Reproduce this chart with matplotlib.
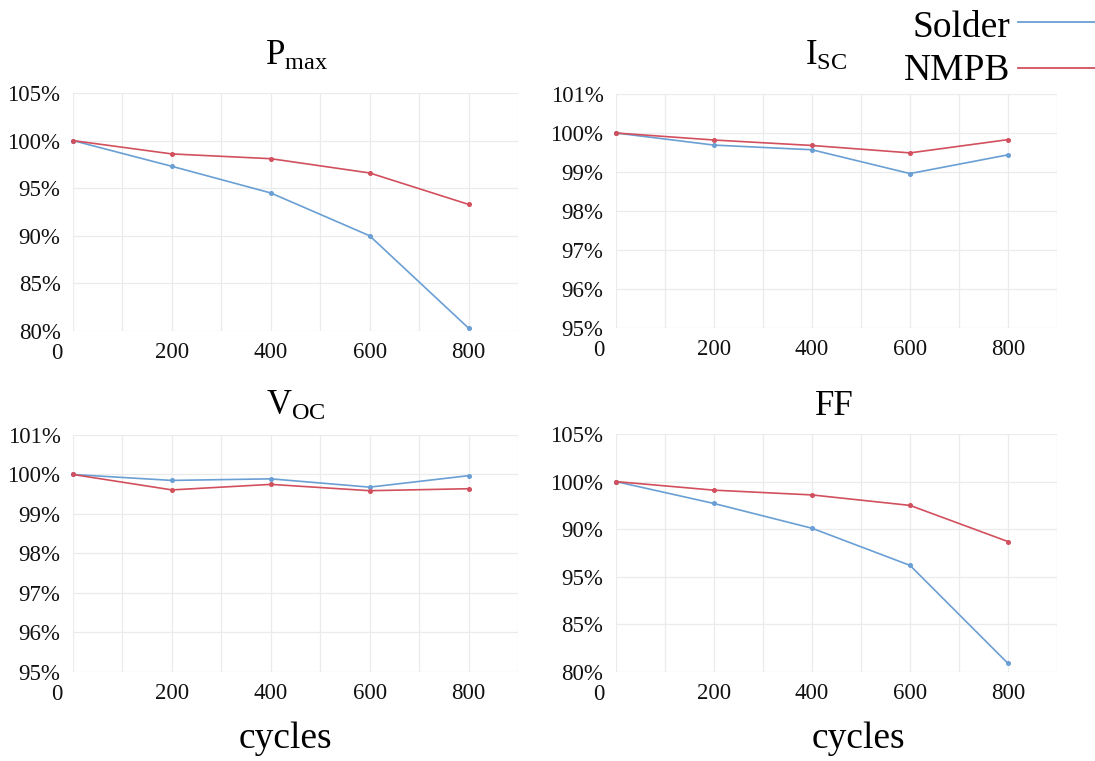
import matplotlib
matplotlib.use("Agg")
import matplotlib.pyplot as plt
from matplotlib.lines import Line2D

plt.rcParams["font.family"] = ["Liberation Serif", "DejaVu Serif"]
plt.rcParams["mathtext.fontset"] = "custom"
plt.rcParams["mathtext.rm"] = "Liberation Serif"
plt.rcParams["mathtext.it"] = "Liberation Serif:italic"

# ---- data -------------------------------------------------------------
cycles = [0, 200, 400, 600, 800]
x_tick_values = [200, 400, 600, 800]
x_tick_labels = ["200", "400", "600", "800"]

pmax_solder = [100.0, 97.3, 94.5, 90.0, 80.3]
pmax_nmpb = [100.0, 98.6, 98.1, 96.6, 93.3]
isc_solder = [100.0, 99.69, 99.57, 98.96, 99.44]
isc_nmpb = [100.0, 99.82, 99.68, 99.49, 99.83]
voc_solder = [100.0, 99.85, 99.89, 99.68, 99.97]
voc_nmpb = [100.0, 99.61, 99.75, 99.59, 99.64]
ff_solder = [100.0, 97.7, 95.1, 91.2, 80.9]
ff_nmpb = [100.0, 99.1, 98.6, 97.5, 93.7]

wide_ticks = [80, 85, 90, 95, 100, 105]
wide_labels = ["80%", "85%", "90%", "95%", "100%", "105%"]
ff_labels = ["80%", "85%", "95%", "90%", "100%", "105%"]
narrow_ticks = [95, 96, 97, 98, 99, 100, 101]
narrow_labels = ["95%", "96%", "97%", "98%", "99%", "100%", "101%"]

series_names = ["Solder", "NMPB"]
BLUE = "#6a9fd4"
RED = "#d2505e"
GRID = "#ebebeb"

# ---- figure -----------------------------------------------------------
W, H = 1095, 761
fig = plt.figure(figsize=(W / 100, H / 100), dpi=100)


def axes_px(left, top, right, bottom):
    return fig.add_axes([left / W, 1 - bottom / H, (right - left) / W, (bottom - top) / H])


panels = [
    # title, solder, nmpb, yticks, ylabels, rect (l, t, r, b), title centre x, title baseline y
    (r"$\mathregular{P_{max}}$", pmax_solder, pmax_nmpb, wide_ticks, wide_labels,
     (73, 93, 518, 331), 297, 65),
    (r"$\mathregular{I_{SC}}$", isc_solder, isc_nmpb, narrow_ticks, narrow_labels,
     (616, 94, 1057, 328), 826, 65),
    (r"$\mathregular{V_{OC}}$", voc_solder, voc_nmpb, narrow_ticks, narrow_labels,
     (73, 435, 518, 672), 296, 415),
    ("FF", ff_solder, ff_nmpb, wide_ticks, ff_labels,
     (616, 434, 1057, 672), 834, 415),
]

for title, solder, nmpb, yt, yl, rect, tx, ty in panels:
    l, t, r, b = rect
    ax = axes_px(l, t, r, b)
    ax.set_xlim(0, 900)
    ax.set_ylim(yt[0], yt[-1])
    ax.set_yticks(yt)
    ax.set_yticklabels(yl)
    ax.set_xticks(x_tick_values)
    ax.set_xticklabels(x_tick_labels)
    ax.set_xticks(range(0, 901, 100), minor=True)
    ax.grid(True, which="both", axis="x", color=GRID, linewidth=0.9)
    ax.grid(True, which="major", axis="y", color=GRID, linewidth=0.9)
    ax.set_axisbelow(True)
    for s in ax.spines.values():
        s.set_visible(False)
    ax.tick_params(axis="both", which="both", length=0, labelsize=16.5, colors="#111111")
    ax.tick_params(axis="y", pad=9)
    ax.tick_params(axis="x", pad=8)

    ax.plot(cycles, solder, color=BLUE, linewidth=1.2, marker="o", markersize=2.6,
            clip_on=False, zorder=3)
    ax.plot(cycles, nmpb, color=RED, linewidth=1.2, marker="o", markersize=2.6,
            clip_on=False, zorder=3)

    # shared "0" at the corner of each panel
    fig.text((l - 11) / W, 1 - (b + 12) / H, "0", ha="right", va="top",
             fontsize=16.5, color="#111111")
    fig.text(tx / W, 1 - ty / H, title, ha="center", va="baseline", fontsize=25)

# x-axis captions
for cx in (285, 858):
    fig.text(cx / W, 1 - 748 / H, "cycles", ha="center", va="baseline", fontsize=27)

# legend at the upper right
for name, colour, base_y, line_y in ((series_names[0], BLUE, 37, 22),
                                     (series_names[1], RED, 80, 68)):
    fig.text(1010 / W, 1 - base_y / H, name, ha="right", va="baseline", fontsize=27)
    fig.add_artist(Line2D([1018 / W, 1095 / W], [1 - line_y / H, 1 - line_y / H],
                          color=colour, linewidth=1.3, transform=fig.transFigure))

fig.savefig("out.png", dpi=100, facecolor="white")
